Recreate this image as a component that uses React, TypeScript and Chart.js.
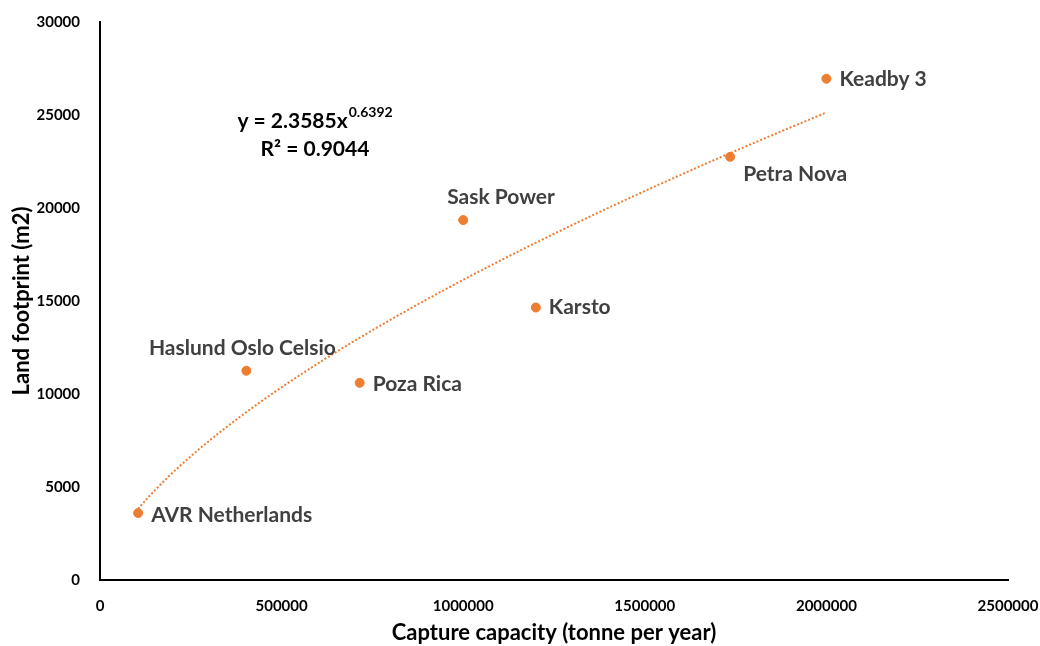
import React, { useEffect, useRef } from "react";
import { Chart, registerables } from "chart.js";

Chart.register(...registerables);

// ---- data ----
const plantNames = [
  "AVR Netherlands",
  "Haslund Oslo Celsio",
  "Poza Rica",
  "Sask Power",
  "Karsto",
  "Petra Nova",
  "Keadby 3",
];
const captureCapacity = [105000, 403000, 715000, 1000000, 1200000, 1735000, 2000000];
const landFootprint = [3600, 11250, 10600, 19350, 14650, 22750, 26950];

const xTicks = [0, 500000, 1000000, 1500000, 2000000, 2500000];
const yTicks = [0, 5000, 10000, 15000, 20000, 25000, 30000];

// power trendline shown on the chart: y = 2.3585 x^0.6392, R² = 0.9044
const trendCoef = 2.3585;
const trendExp = 0.6392;
const trendR2 = "0.9044";
const trendXStart = 105000;
const trendXEnd = 2000000;

// ---- styles (label placement relative to each point, in px) ----
const labelPlacement = [
  { dx: 13, dy: 2, align: "left" },
  { dx: -4, dy: -23, align: "center" },
  { dx: 13, dy: 1, align: "left" },
  { dx: -16, dy: -23, align: "left" },
  { dx: 13, dy: 0, align: "left" },
  { dx: 13, dy: 17, align: "left" },
  { dx: 13, dy: 1, align: "left" },
];

const ORANGE = "#ED7D31";
const FONT = "Lato, 'Open Sans', sans-serif";

export default function App() {
  const ref = useRef<HTMLCanvasElement | null>(null);

  useEffect(() => {
    if (!ref.current) return;

    const trendPts: { x: number; y: number }[] = [];
    const steps = 200;
    for (let i = 0; i <= steps; i++) {
      const x = trendXStart + ((trendXEnd - trendXStart) * i) / steps;
      trendPts.push({ x, y: trendCoef * Math.pow(x, trendExp) });
    }

    const labelPlugin = {
      id: "labels",
      afterDatasetsDraw(chart: any) {
        const ctx = chart.ctx;
        const meta = chart.getDatasetMeta(1);
        ctx.save();
        ctx.font = `bold 21px ${FONT}`;
        ctx.fillStyle = "#404040";
        ctx.textBaseline = "middle";
        meta.data.forEach((el: any, i: number) => {
          const p = labelPlacement[i];
          ctx.textAlign = p.align;
          ctx.fillText(plantNames[i], el.x + p.dx, el.y + p.dy);
        });

        // trendline equation
        const ca = chart.chartArea;
        const cx = ca.left + 215;
        const y1 = ca.top + 99;
        const y2 = ca.top + 127;
        ctx.fillStyle = "#000";
        ctx.font = `bold 21px ${FONT}`;
        const main = `y = ${trendCoef}x`;
        const mw = ctx.measureText(main).width;
        ctx.font = `bold 14px ${FONT}`;
        const sup = `${trendExp}`;
        const sw = ctx.measureText(sup).width;
        const start = cx - (mw + sw + 1) / 2;
        ctx.textAlign = "left";
        ctx.font = `bold 21px ${FONT}`;
        ctx.fillText(main, start, y1);
        ctx.font = `bold 14px ${FONT}`;
        ctx.fillText(sup, start + mw + 1, y1 - 8.5);
        ctx.font = `bold 21px ${FONT}`;
        ctx.textAlign = "center";
        ctx.fillText(`R² = ${trendR2}`, cx, y2);
        ctx.restore();
      },
    };

    const chart = new Chart(ref.current, {
      type: "scatter",
      data: {
        datasets: [
          {
            type: "line",
            data: trendPts,
            borderColor: ORANGE,
            borderWidth: 2,
            borderDash: [2, 2],
            pointRadius: 0,
            fill: false,
            tension: 0,
            order: 2,
          } as any,
          {
            data: captureCapacity.map((x, i) => ({ x, y: landFootprint[i] })),
            backgroundColor: ORANGE,
            borderColor: ORANGE,
            pointRadius: 4.5,
            order: 1,
          },
        ],
      },
      options: {
        responsive: false,
        animation: false,
        layout: { padding: { left: 0, right: 32, top: 22, bottom: 0 } },
        plugins: {
          legend: { display: false },
          tooltip: { enabled: false },
        },
        scales: {
          x: {
            type: "linear",
            min: 0,
            max: 2500000,
            afterBuildTicks: (s: any) => {
              s.ticks = xTicks.map((v) => ({ value: v }));
            },
            afterFit: (s: any) => {
              s.height = 66;
              s.paddingLeft = 0;
              s.paddingRight = 0;
            },
            grid: { display: false },
            border: { display: true, color: "#000", width: 2 },
            ticks: {
              color: "#000",
              font: { family: FONT, size: 15, weight: "bold" },
              padding: 9,
              maxRotation: 0,
              callback: (v: any) => String(v),
            },
            title: {
              display: true,
              text: "Capture capacity (tonne per year)",
              color: "#000",
              font: { family: FONT, size: 22, weight: "bold" },
              padding: { top: 0, bottom: 0 },
            },
          },
          y: {
            type: "linear",
            min: 0,
            max: 30000,
            afterBuildTicks: (s: any) => {
              s.ticks = yTicks.map((v) => ({ value: v }));
            },
            afterFit: (s: any) => {
              s.width = 100;
              s.paddingTop = 0;
              s.paddingBottom = 0;
            },
            grid: { display: false },
            border: { display: true, color: "#000", width: 2 },
            ticks: {
              color: "#000",
              font: { family: FONT, size: 15, weight: "bold" },
              padding: 12,
              callback: (v: any) => String(v),
            },
            title: {
              display: true,
              text: "Land footprint (m2)",
              color: "#000",
              font: { family: FONT, size: 22, weight: "bold" },
              padding: { top: 9, bottom: 0 },
            },
          },
        },
      },
      plugins: [labelPlugin],
    });

    return () => chart.destroy();
  }, []);

  return (
    <div style={{ position: "fixed", left: 0, top: 0, width: 1040, height: 646, background: "#fff" }}>
      <canvas ref={ref} width={1040} height={646} style={{ display: "block" }} />
    </div>
  );
}
